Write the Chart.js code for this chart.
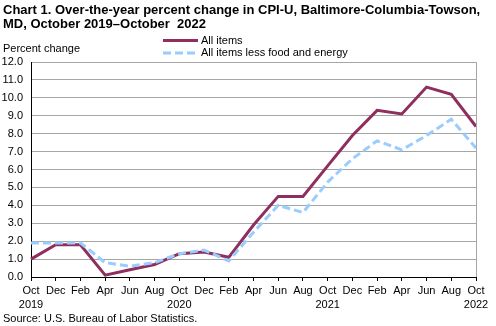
<!DOCTYPE html>
<html>
<head>
<meta charset="utf-8">
<script src="https://cdn.jsdelivr.net/npm/chart.js@4"></script>
<style>
    html, body { margin: 0; padding: 0; background: #fff; }
    #cpiChart { display: block; }
</style>
</head>
<body>
<canvas id="cpiChart" width="496" height="326"></canvas>
<script>
// Bimonthly, October 2019 through October 2022
const months = ['Oct', 'Dec', 'Feb', 'Apr', 'Jun', 'Aug', 'Oct', 'Dec', 'Feb', 'Apr', 'Jun', 'Aug', 'Oct', 'Dec', 'Feb', 'Apr', 'Jun', 'Aug', 'Oct'];
const years = ['2019', '', '', '', '', '', '2020', '', '', '', '', '', '2021', '', '', '', '', '', '2022'];

const allItems = [1.0, 1.8, 1.8, 0.1, 0.4, 0.7, 1.3, 1.4, 1.1, 2.9, 4.5, 4.5, 6.2, 7.9, 9.3, 9.1, 10.6, 10.2, 8.4];
const lessFoodEnergy = [1.9, 1.9, 1.9, 0.8, 0.6, 0.8, 1.3, 1.5, 0.9, 2.5, 4.0, 3.6, 5.3, 6.6, 7.6, 7.1, 7.9, 8.8, 7.2];

const yTicks = [0, 1, 2, 3, 4, 5, 6, 7, 8, 9, 10, 11, 12];

const MAROON = '#8e2f5e';
const LIGHT_BLUE = '#99ccff';
const GRID = '#a6a6a6';
const FONT = '"Liberation Sans", Arial, sans-serif';

Chart.defaults.font.family = FONT;
Chart.defaults.color = '#000';

// Title, axis caption, legend, source note and the right-hand frame line
const decorations = {
    id: 'decorations',
    afterDraw(chart) {
        const { ctx, chartArea } = chart;
        ctx.save();

        ctx.fillStyle = '#000';
        ctx.textBaseline = 'alphabetic';
        ctx.textAlign = 'left';
        ctx.font = 'bold 13px ' + FONT;
        ctx.fillText('Chart 1. Over-the-year percent change in CPI-U, Baltimore-Columbia-Towson,', 3, 14);
        ctx.fillText('MD, October 2019\u2013October  2022', 3, 28);

        ctx.font = '11px ' + FONT;
        ctx.fillText('Percent change', 3, 52);
        ctx.fillText('Source: U.S. Bureau of Labor Statistics.', 3, 322);

        // legend
        const lx1 = 163, lx2 = 198;
        chart.data.datasets.forEach((ds, i) => {
            const y = 40.5 + i * 12.5;
            ctx.beginPath();
            ctx.strokeStyle = ds.borderColor;
            ctx.lineWidth = ds.borderWidth;
            ctx.setLineDash(ds.borderDash || []);
            ctx.moveTo(lx1, y);
            ctx.lineTo(lx2, y);
            ctx.stroke();
            ctx.setLineDash([]);
            ctx.textBaseline = 'middle';
            ctx.fillText(ds.label, 201, y);
        });

        // right frame
        ctx.beginPath();
        ctx.strokeStyle = GRID;
        ctx.lineWidth = 1;
        ctx.moveTo(Math.round(chartArea.right) + 0.5, chartArea.top);
        ctx.lineTo(Math.round(chartArea.right) + 0.5, chartArea.bottom);
        ctx.stroke();

        ctx.restore();
    }
};

new Chart(document.getElementById('cpiChart'), {
    type: 'line',
    data: {
        labels: months.map((m, i) => [m, years[i]]),
        datasets: [{
            label: 'All items',
            data: allItems,
            borderColor: MAROON,
            backgroundColor: MAROON,
            borderWidth: 3,
            pointRadius: 0,
            tension: 0,
            order: 2
        }, {
            label: 'All items less food and energy',
            data: lessFoodEnergy,
            borderColor: LIGHT_BLUE,
            backgroundColor: LIGHT_BLUE,
            borderWidth: 3,
            borderDash: [8, 4],
            pointRadius: 0,
            tension: 0,
            order: 1
        }]
    },
    options: {
        responsive: false,
        animation: false,
        devicePixelRatio: 1,
        layout: { padding: { top: 62, right: 20, left: 0, bottom: 0 } },
        plugins: {
            legend: { display: false },
            title: { display: false },
            tooltip: { enabled: false }
        },
        scales: {
            x: {
                type: 'category',
                offset: false,
                grid: {
                    display: true,
                    drawOnChartArea: false,
                    drawTicks: true,
                    tickLength: 4,
                    color: '#000'
                },
                border: { color: '#000', width: 1 },
                ticks: {
                    autoSkip: false,
                    maxRotation: 0,
                    padding: 3,
                    font: { size: 11, lineHeight: 1.25 }
                },
                afterFit: (scale) => { scale.height = 49; }
            },
            y: {
                min: 0,
                max: 12,
                afterBuildTicks: (scale) => { scale.ticks = yTicks.map(v => ({ value: v })); },
                grid: {
                    drawTicks: false,
                    color: (c) => (c.tick && c.tick.value === 0) ? 'rgba(0,0,0,0)' : GRID
                },
                border: { color: '#000', width: 1 },
                ticks: {
                    padding: 8,
                    font: { size: 11 },
                    callback: (v) => Number(v).toFixed(1)
                },
                afterFit: (scale) => { scale.width = 31; }
            }
        }
    },
    plugins: [decorations]
});
</script>
</body>
</html>
